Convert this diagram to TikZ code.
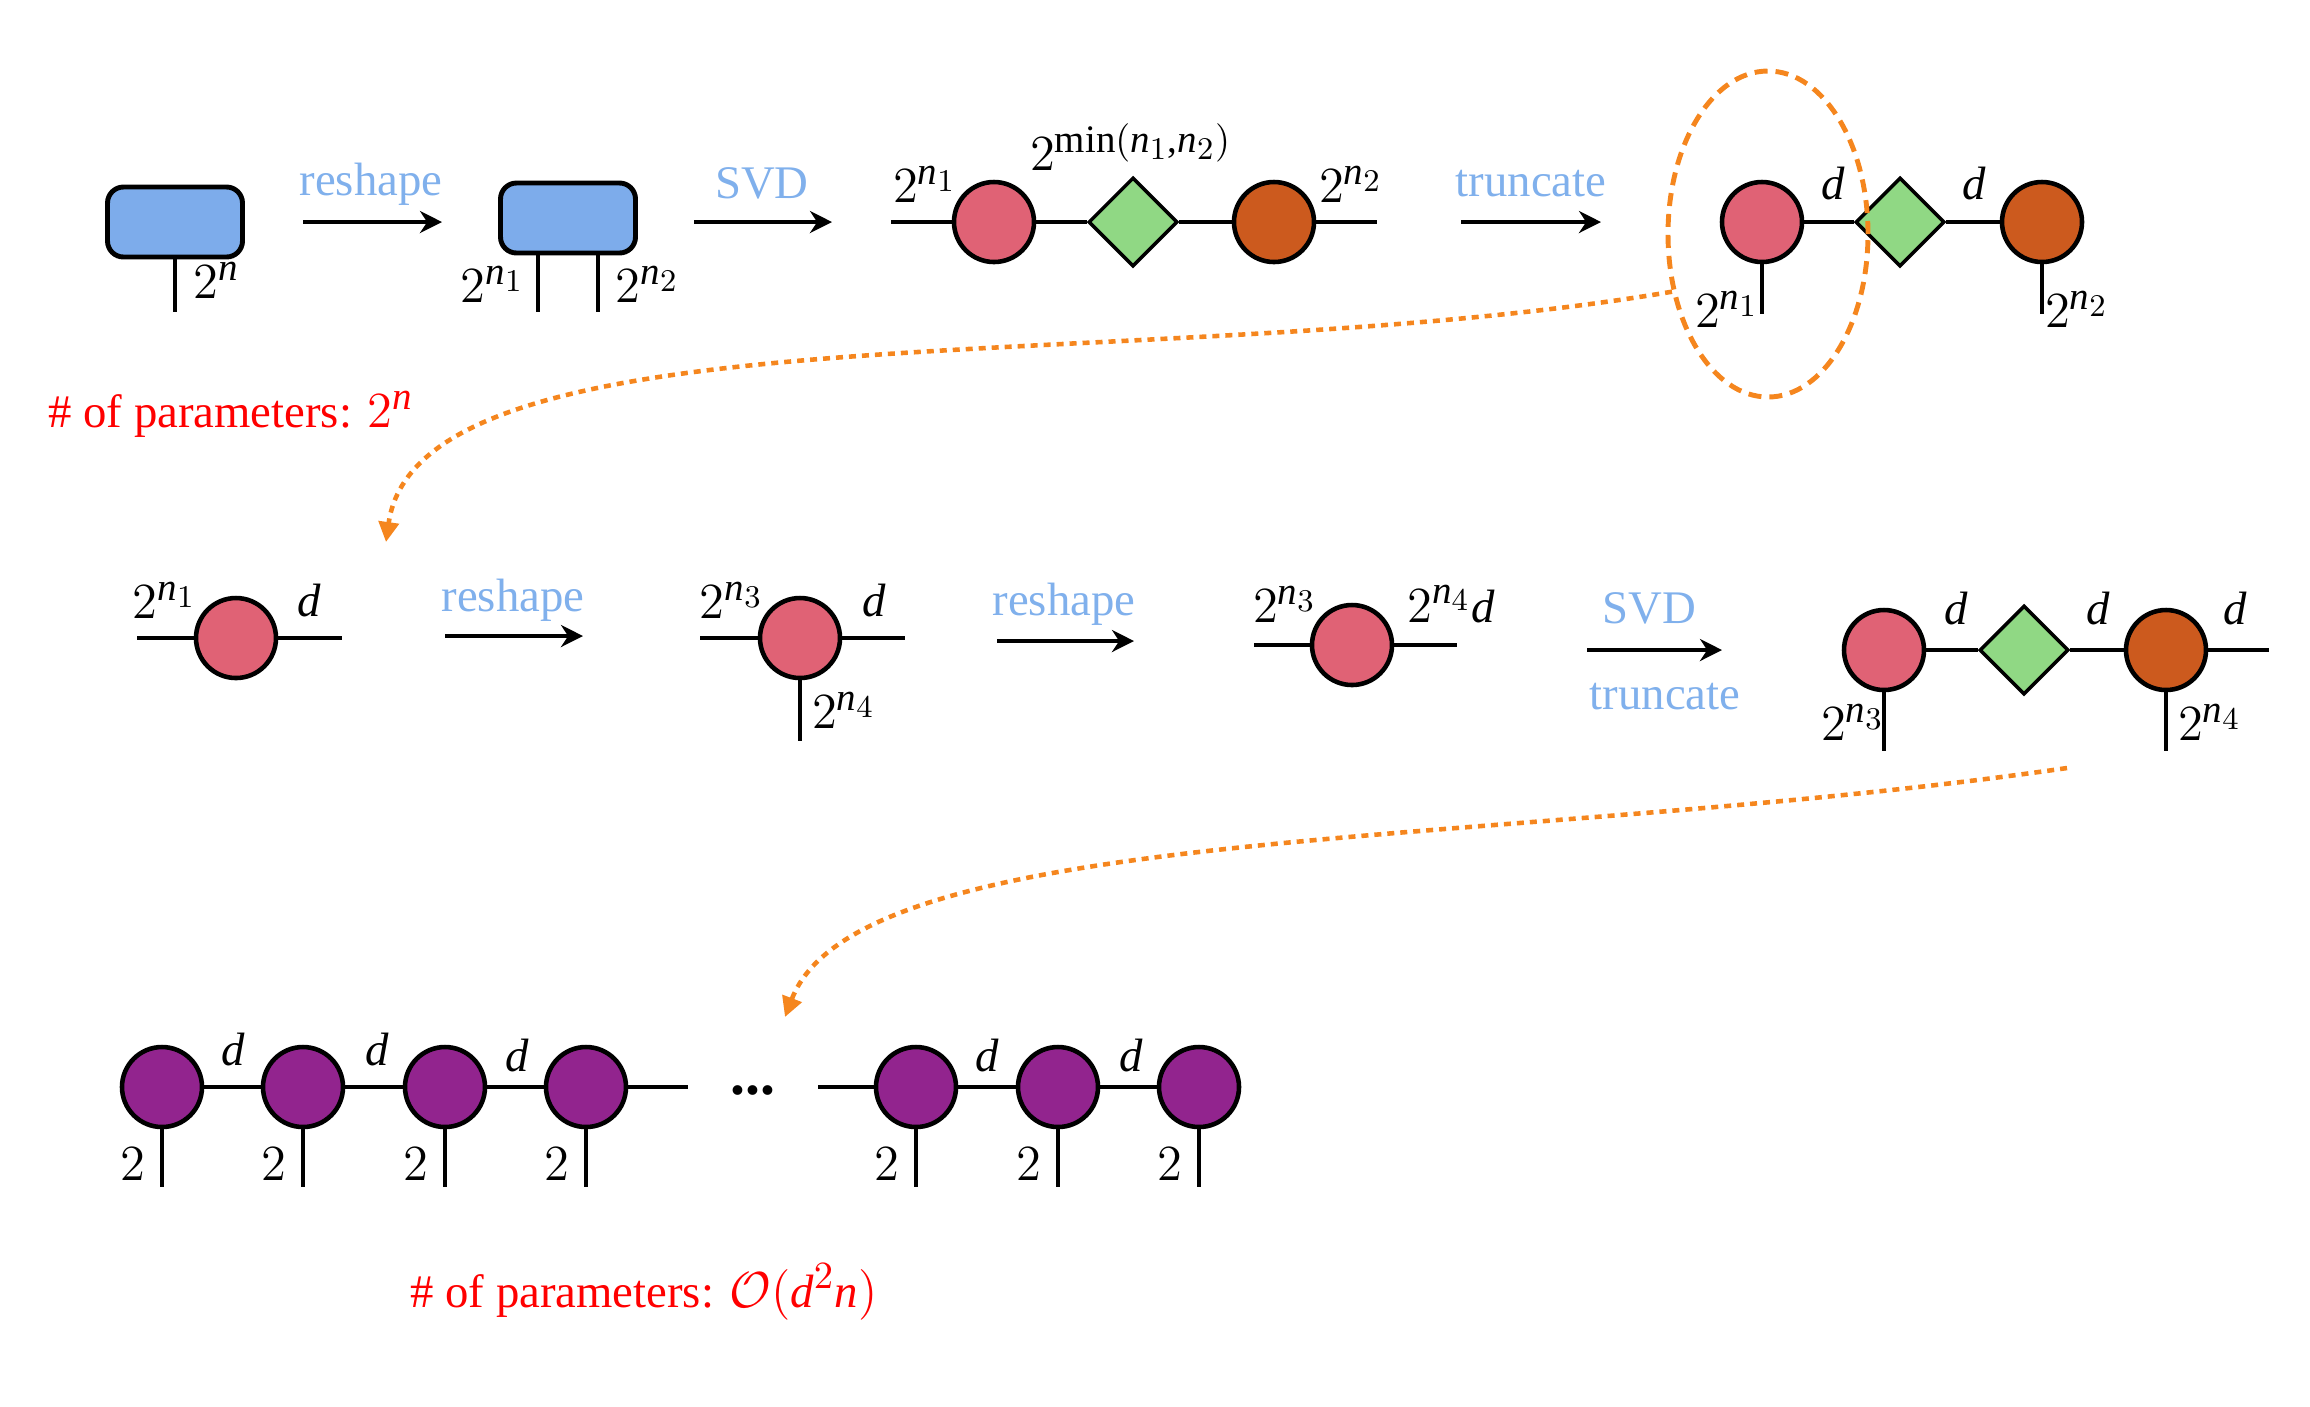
\documentclass[tikz,border=0pt]{standalone}
\usepackage{fontspec}
\setmainfont{Liberation Serif}
\usepackage[italic]{mathastext}
\usetikzlibrary{arrows.meta,shapes.geometric}

\definecolor{boxblue}{HTML}{7DACEB}
\definecolor{opblue}{HTML}{80B0EC}
\definecolor{tpink}{HTML}{E06275}
\definecolor{tgreen}{HTML}{90D884}
\definecolor{tbrown}{HTML}{CC5A1E}
\definecolor{tpurp}{HTML}{92248E}
\definecolor{hlorange}{HTML}{F5861E}

\begin{document}
\begin{tikzpicture}[x=0.1mm,y=-0.1mm,
  every node/.style={font=\fontsize{13.3}{16}\selectfont},
  blk/.style={rectangle,rounded corners=1.6mm,draw,line width=1.4pt,fill=boxblue,minimum width=13.5mm,minimum height=7mm},
  tens/.style={circle,draw,line width=1.3pt,minimum size=8mm,inner sep=0pt},
  pinkt/.style={tens,fill=tpink},
  brownt/.style={tens,fill=tbrown},
  purpt/.style={tens,fill=tpurp},
  core/.style={diamond,draw,line width=1pt,fill=tgreen,minimum size=8.9mm,inner sep=0pt,aspect=1},
  bond/.style={line width=1.4pt},
  leg/.style={line width=1pt},
  lbl/.style={inner sep=0pt},
  oplbl/.style={inner sep=0pt,text=opblue},
  cnt/.style={inner sep=0pt,text=red},
  stepar/.style={line width=1.3pt,-{Stealth[length=2.2mm,width=2.2mm]}},
  flow/.style={hlorange,line width=1.3pt,dash pattern=on 0.7mm off 0.6mm,-{Triangle[length=2mm,width=2mm]}},
  selring/.style={ellipse,draw=hlorange,line width=1.4pt,dash pattern=on 1.3mm off 0.8mm,minimum width=20mm,minimum height=32.6mm,inner sep=0pt}]

\useasboundingbox (0,0) rectangle (2310,1406);

% row 1
\node[blk] (b1) at (175,222) {};
\coordinate (b1f) at (175,312);
\draw[bond] (b1) -- (b1f);
\node[lbl] (b1n) at (217,280) {$2^{n}$};

\coordinate (a1s) at (303,222);
\coordinate (a1e) at (442,222);
\draw[stepar] (a1s) -- (a1e);
\node[oplbl] (a1t) at (371,184) {reshape};

\node[blk] (b2) at (568,218) {};
\coordinate (b2l) at (538,312);
\coordinate (b2r) at (598,312);
\draw[bond] (b2.south -| b2l) -- (b2l);
\draw[bond] (b2.south -| b2r) -- (b2r);
\node[lbl] (b2ln) at (493,284) {$2^{n_1}$};
\node[lbl] (b2rn) at (648,284) {$2^{n_2}$};

\coordinate (a2s) at (694,222);
\coordinate (a2e) at (832,222);
\draw[stepar] (a2s) -- (a2e);
\node[oplbl] (a2t) at (762,183) {SVD};

\node[pinkt] (u1) at (994,222) {};
\node[core] (s1) at (1133,222) {};
\node[brownt] (v1) at (1274,222) {};
\coordinate (u1l) at (891,222);
\coordinate (v1r) at (1377,222);
\draw[bond] (u1l) -- (u1) -- (s1) -- (v1) -- (v1r);
\node[lbl] (u1n) at (925,184) {$2^{n_1}$};
\node[lbl] (s1n) at (1131,147) {$2^{\mathrm{min}(n_1,n_2)}$};
\node[lbl] (v1n) at (1351,184) {$2^{n_2}$};

\coordinate (a3s) at (1461,222);
\coordinate (a3e) at (1601,222);
\draw[stepar] (a3s) -- (a3e);
\node[oplbl] (a3t) at (1531,184) {truncate};

\node[pinkt] (u2) at (1762,222) {};
\node[core] (s2) at (1900,222) {};
\node[brownt] (v2) at (2042,222) {};
\draw[bond] (u2) -- (s2) -- (v2);
\coordinate (u2f) at (1762,314);
\coordinate (v2f) at (2042,314);
\draw[leg] (u2) -- (u2f);
\draw[leg] (v2) -- (v2f);
\node[lbl] (u2n) at (1727,309) {$2^{n_1}$};
\node[lbl] (v2n) at (2077,309) {$2^{n_2}$};
\node[lbl] (d1) at (1833,184) {$d$};
\node[lbl] (d2) at (1974,184) {$d$};

\node[selring] (sel) at (1768,234) {};

\node[cnt] (cnt1) at (231,414) {\# of parameters: $2^{n}$};

\coordinate (r2in) at (386,542);
\draw[flow] (sel.211) .. controls (1150,380) and (420,300) .. (r2in);

% row 2
\node[pinkt] (w1) at (236,638) {};
\coordinate (w1l) at (137,638);
\coordinate (w1r) at (342,638);
\draw[bond] (w1l) -- (w1) -- (w1r);
\node[lbl] (w1ln) at (165,600) {$2^{n_1}$};
\node[lbl] (w1rn) at (309,600) {$d$};

\coordinate (a4s) at (445,636);
\coordinate (a4e) at (583,636);
\draw[stepar] (a4s) -- (a4e);
\node[oplbl] (a4t) at (513,600) {reshape};

\node[pinkt] (w2) at (800,638) {};
\coordinate (w2l) at (700,638);
\coordinate (w2r) at (905,638);
\coordinate (w2f) at (800,741);
\draw[bond] (w2l) -- (w2) -- (w2r);
\draw[leg] (w2) -- (w2f);
\node[lbl] (w2ln) at (732,600) {$2^{n_3}$};
\node[lbl] (w2rn) at (874,600) {$d$};
\node[lbl] (w2fn) at (844,710) {$2^{n_4}$};

\coordinate (a5s) at (997,641);
\coordinate (a5e) at (1134,641);
\draw[stepar] (a5s) -- (a5e);
\node[oplbl] (a5t) at (1064,604) {reshape};

\node[pinkt] (w3) at (1352,645) {};
\coordinate (w3l) at (1254,645);
\coordinate (w3r) at (1457,645);
\draw[bond] (w3l) -- (w3) -- (w3r);
\node[lbl] (w3ln) at (1285,604) {$2^{n_3}$};
\node[lbl] (w3rn) at (1451,604) {$2^{n_4}d$};

\coordinate (a6s) at (1587,650);
\coordinate (a6e) at (1722,650);
\draw[stepar] (a6s) -- (a6e);
\node[oplbl] (a6t) at (1649,608) {SVD};
\node[oplbl] (a6b) at (1665,697) {truncate};

\node[pinkt] (u3) at (1884,650) {};
\node[core] (s3) at (2024,650) {};
\node[brownt] (v3) at (2166,650) {};
\coordinate (v3r) at (2269,650);
\draw[bond] (u3) -- (s3) -- (v3) -- (v3r);
\coordinate (u3f) at (1884,751);
\coordinate (v3f) at (2166,751);
\draw[leg] (u3) -- (u3f);
\draw[leg] (v3) -- (v3f);
\node[lbl] (d3) at (1956,608) {$d$};
\node[lbl] (d4) at (2098,608) {$d$};
\node[lbl] (d5) at (2235,608) {$d$};
\node[lbl] (u3n) at (1853,722) {$2^{n_3}$};
\node[lbl] (v3n) at (2210,722) {$2^{n_4}$};

\coordinate (r3out) at (2067,768);
\coordinate (r3in) at (785,1017);
\draw[flow] (r3out) .. controls (1500,850) and (860,820) .. (r3in);

% row 3
\foreach \i/\x in {1/162,2/303,3/445,4/586,5/916,6/1058,7/1199}{
  \node[purpt] (p\i) at (\x,1087) {};
  \coordinate (f\i) at (\x,1187);
  \draw[leg] (p\i) -- (f\i);
  \node[lbl] (n\i) at (\x-29,1164) {$2$};
}
\foreach \a/\b in {1/2,2/3,3/4,5/6,6/7}
  \draw[bond] (p\a) -- (p\b);
\coordinate (p4r) at (688,1087);
\coordinate (p5l) at (818,1087);
\draw[bond] (p4) -- (p4r);
\draw[bond] (p5l) -- (p5);
\node[lbl,anchor=base,font=\fontsize{17}{20}\selectfont\bfseries] (dots) at (753,1094) {...};
\foreach \j/\x/\y in {1/233/1049,2/377/1049,3/517/1055,4/987/1055,5/1131/1055}
  \node[lbl] (e\j) at (\x,\y) {$d$};

\node[cnt] (cnt2) at (644,1292) {\# of parameters: $\mathcal{O}(d^{2}n)$};

\end{tikzpicture}
\end{document}
